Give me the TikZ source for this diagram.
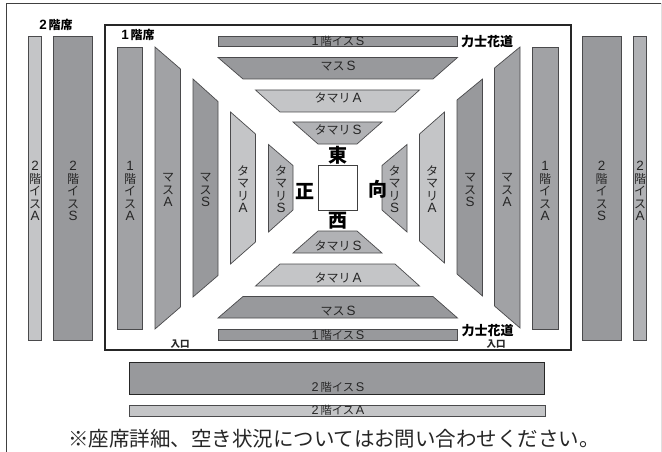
\documentclass[tikz,border=0pt]{standalone}
\usepackage{fontspec}
\usepackage{xcolor}
\newfontfamily\jpfont{Noto Sans CJK JP}
\newfontfamily\latfont[Scale=1.12]{Liberation Sans}
\newcommand{\lat}[1]{{\latfont #1}}
\definecolor{seatdark}{HTML}{98999C}
\definecolor{seatmid}{HTML}{A1A2A5}
\definecolor{seatsoft}{HTML}{B1B2B5}
\definecolor{seatlight}{HTML}{C4C5C7}
\definecolor{rimgray}{HTML}{4A4A4C}

\begin{document}
\begin{tikzpicture}[
  x=1pt, y=-1pt,
  darkseat/.style={draw=rimgray, line width=0.7pt, fill=seatdark},
  midseat/.style={draw=rimgray, line width=0.7pt, fill=seatmid},
  softseat/.style={draw=rimgray, line width=0.7pt, fill=seatsoft},
  lightseat/.style={draw=rimgray, line width=0.7pt, fill=seatlight},
  upright/.style={font=\jpfont\fontsize{12}{12.5}\selectfont, align=center, inner sep=0pt, text=black!85},
  flat/.style={font=\jpfont\fontsize{11.3}{12}\selectfont, inner sep=0pt, text=black!85},
  wideflat/.style={font=\jpfont\fontsize{12}{12.5}\selectfont, inner sep=0pt, text=black!85},
  head/.style={font=\jpfont\bfseries\fontsize{12}{13}\selectfont, inner sep=0pt},
  road/.style={font=\jpfont\bfseries\fontsize{13}{14}\selectfont, inner sep=0pt},
  gate/.style={font=\jpfont\bfseries\fontsize{9.5}{11}\selectfont, inner sep=0pt, text=black!85},
  side/.style={font=\jpfont\bfseries\fontsize{19}{20}\selectfont, inner sep=0pt}
]
  \useasboundingbox (0,0) rectangle (662,452);
  \fill[white] (0,0) rectangle (662,452);

  % Sheet edge
  \draw[black!75, line width=0.8pt] (6,452) -- (6,3.5) -- (662,3.5);
  \draw[black!12, line width=0.8pt] (661,3.5) -- (661,452);

  % Hall frame
  \draw[black!85, line width=1.6pt] (105,25) rectangle (571,350);

  % Second floor, left and right
  \draw[lightseat] (28.5,36) rectangle (41.5,340);
  \draw[darkseat] (53.5,36) rectangle (92.5,340);
  \draw[darkseat] (582,36) rectangle (621,340);
  \draw[softseat] (633.5,36) rectangle (646,340);

  % First floor, left
  \draw[midseat] (117,47) rectangle (142.5,329);
  \draw[midseat] (155,47) -- (180.5,69) -- (180.5,307) -- (155,329) -- cycle;
  \draw[darkseat] (193,79) -- (218,101.5) -- (218,275.5) -- (193,297) -- cycle;
  \draw[lightseat] (230.5,112) -- (255.5,134) -- (255.5,242) -- (230.5,264) -- cycle;
  \draw[softseat] (268.5,144.5) -- (293,165.5) -- (293,210) -- (268.5,232) -- cycle;

  % First floor, right
  \draw[softseat] (407,144.5) -- (382,165.5) -- (382,210) -- (407,232) -- cycle;
  \draw[lightseat] (444.5,112) -- (419.5,134) -- (419.5,241) -- (444.5,263) -- cycle;
  \draw[darkseat] (482.5,79) -- (457,100) -- (457,274) -- (482.5,296) -- cycle;
  \draw[midseat] (520,47) -- (494.5,68) -- (494.5,306) -- (520,328) -- cycle;
  \draw[midseat] (532.5,47) rectangle (558,329);

  % First floor, top
  \draw[darkseat] (218,36) rectangle (457.5,46.5);
  \draw[darkseat] (218,57.5) -- (457.5,57.5) -- (433,79) -- (243,79) -- cycle;
  \draw[lightseat] (255.5,90) -- (419.5,90) -- (395,112) -- (280,112) -- cycle;
  \draw[softseat] (293,122) -- (382,122) -- (357,144) -- (318,144) -- cycle;

  % First floor, bottom
  \draw[softseat] (318,231) -- (357,231) -- (382,253) -- (293,253) -- cycle;
  \draw[lightseat] (280,264) -- (395,264) -- (419.5,286) -- (255.5,286) -- cycle;
  \draw[darkseat] (243,296.5) -- (433,296.5) -- (457.5,318) -- (218,318) -- cycle;
  \draw[darkseat] (218,329.5) rectangle (457.5,340);

  % Ring
  \draw[black!75, line width=0.7pt, fill=white] (318,165.5) rectangle (357,210);

  % Second floor, front
  \draw[darkseat, draw=black!85] (129.5,362) rectangle (544.5,394);
  \draw[lightseat] (129.5,405) rectangle (545,416.5);

  % Vertical labels
  \node[upright] (nikaiAL) at (35,191) {\lat{2}\\階\\イ\\ス\\\lat{A}};
  \node[upright] (nikaiSL) at (73,191) {\lat{2}\\階\\イ\\ス\\\lat{S}};
  \node[upright] (ikkaiAL) at (130,191) {\lat{1}\\階\\イ\\ス\\\lat{A}};
  \node[upright] (masuAL) at (168,190) {マ\\ス\\\lat{A}};
  \node[upright] (masuSL) at (205.5,190) {マ\\ス\\\lat{S}};
  \node[upright] (tamariAL) at (243,189) {タ\\マ\\リ\\\lat{A}};
  \node[upright] (tamariSL) at (281,189) {タ\\マ\\リ\\\lat{S}};
  \node[upright] (tamariSR) at (394.5,189) {タ\\マ\\リ\\\lat{S}};
  \node[upright] (tamariAR) at (432,189) {タ\\マ\\リ\\\lat{A}};
  \node[upright] (masuSR) at (470,190) {マ\\ス\\\lat{S}};
  \node[upright] (masuAR) at (507,190) {マ\\ス\\\lat{A}};
  \node[upright] (ikkaiAR) at (545,191) {\lat{1}\\階\\イ\\ス\\\lat{A}};
  \node[upright] (nikaiSR) at (601.5,191) {\lat{2}\\階\\イ\\ス\\\lat{S}};
  \node[upright] (nikaiAR) at (640,191) {\lat{2}\\階\\イ\\ス\\\lat{A}};

  % Flat labels
  \node[flat] (ikkaiST) at (338,41) {\lat{1}\,階イス\,\lat{S}};
  \node[wideflat] (masuST) at (338,66) {マス\,\lat{S}};
  \node[wideflat] (tamariAT) at (338,97.5) {タマリ\,\lat{A}};
  \node[wideflat] (tamariST) at (338,130) {タマリ\,\lat{S}};
  \node[wideflat] (tamariSB) at (338,246) {タマリ\,\lat{S}};
  \node[wideflat] (tamariAB) at (338,278) {タマリ\,\lat{A}};
  \node[wideflat] (masuSB) at (338,311) {マス\,\lat{S}};
  \node[flat] (ikkaiSB) at (338,335) {\lat{1}\,階イス\,\lat{S}};
  \node[flat] (nikaiSF) at (338,387) {\lat{2}\,階イス\,\lat{S}};
  \node[flat] (nikaiAF) at (338,410.5) {\lat{2}\,階イス\,\lat{A}};

  % Headings
  \node[head] (floor2) at (56,25) {\lat{2}\,階席};
  \node[head] (floor1) at (138,35) {\lat{1}\,階席};
  \node[road] (hanaT) at (487,42) {力士花道};
  \node[road] (hanaB) at (487.5,331) {力士花道};
  \node[gate] (gateL) at (180,344) {入口};
  \node[gate] (gateR) at (496,344) {入口};

  % Sides of the ring
  \node[side] (east) at (338,155) {東};
  \node[side] (west) at (338,221) {西};
  \node[side] (front) at (305,192) {正};
  \node[side] (back) at (378,189) {向};

  % Note
  \node[inner sep=0pt, font=\jpfont\fontsize{20.5}{22}\selectfont, text=black!85] (note) at (334,439) {※座席詳細、空き状況についてはお問い合わせください。};
\end{tikzpicture}
\end{document}
